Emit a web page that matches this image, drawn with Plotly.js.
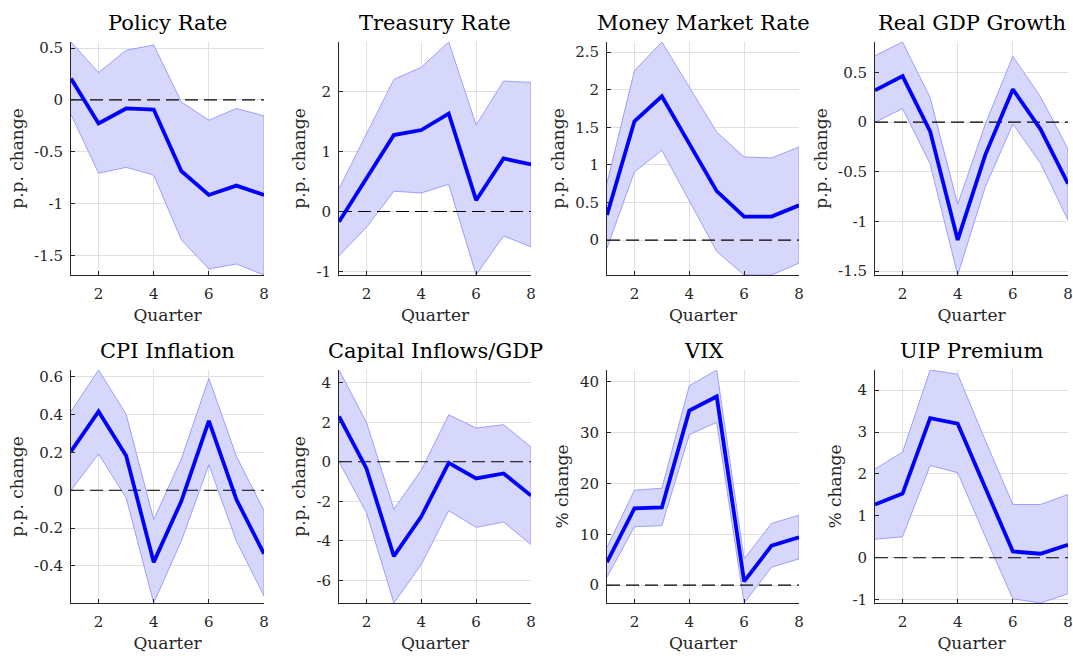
<!DOCTYPE html>
<html>
<head>
<meta charset="utf-8">
<script src="https://cdn.plot.ly/plotly-3.0.1.min.js"></script>
<style>
  html, body { margin: 0; padding: 0; background: #fff; }
  #chart { width: 1073px; height: 656px; }
</style>
</head>
<body>
<div id="chart"></div>
<script>
// Impulse responses over eight quarters: point estimate with confidence band
const quarters = [1, 2, 3, 4, 5, 6, 7, 8];
const quarterTicks = [2, 4, 6, 8];

const panelTitles = ["Policy Rate", "Treasury Rate", "Money Market Rate", "Real GDP Growth",
                     "CPI Inflation", "Capital Inflows/GDP", "VIX", "UIP Premium"];
const unitLabels = ["p.p. change", "p.p. change", "p.p. change", "p.p. change",
                    "p.p. change", "p.p. change", "% change", "% change"];

const policyMean  = [0.205, -0.228, -0.083, -0.093, -0.686, -0.917, -0.827, -0.917];
const policyUpper = [0.558, 0.263, 0.478, 0.529, -0.019, -0.196, -0.083, -0.154];
const policyLower = [-0.141, -0.708, -0.651, -0.724, -1.349, -1.631, -1.583, -1.689];

const treasuryMean  = [-0.171, 0.547, 1.276, 1.359, 1.635, 0.188, 0.884, 0.785];
const treasuryUpper = [0.381, 1.30, 2.204, 2.409, 2.829, 1.442, 2.177, 2.155];
const treasuryLower = [-0.740, -0.265, 0.337, 0.309, 0.453, -1.061, -0.409, -0.591];

const moneyMean  = [0.335, 1.581, 1.912, 1.282, 0.652, 0.313, 0.313, 0.463];
const moneyUpper = [0.76, 2.251, 2.634, 2.03, 1.436, 1.106, 1.093, 1.238];
const moneyLower = [-0.106, 0.907, 1.194, 0.53, -0.150, -0.463, -0.463, -0.304];

const gdpMean  = [0.32, 0.463, -0.093, -1.187, -0.33, 0.33, -0.07, -0.62];
const gdpUpper = [0.67, 0.807, 0.247, -0.827, -0.02, 0.663, 0.257, -0.27];
const gdpLower = [-0.003, 0.137, -0.42, -1.54, -0.653, -0.02, -0.413, -0.987];

const cpiMean  = [0.206, 0.417, 0.183, -0.38, -0.058, 0.367, -0.049, -0.336];
const cpiUpper = [0.417, 0.636, 0.402, -0.155, 0.165, 0.592, 0.179, -0.107];
const cpiLower = [0.0, 0.192, -0.04, -0.596, -0.269, 0.135, -0.269, -0.559];

const flowsMean  = [2.30, -0.336, -4.78, -2.77, -0.05, -0.84, -0.59, -1.71];
const flowsUpper = [4.65, 2.01, -2.40, -0.42, 2.38, 1.71, 1.88, 0.755];
const flowsLower = [0.0, -2.57, -7.15, -5.20, -2.48, -3.32, -3.05, -4.19];

const vixMean  = [4.5, 15.07, 15.26, 34.3, 37.1, 0.72, 7.76, 9.39];
const vixUpper = [7.44, 18.66, 19.05, 39.2, 42.3, 5.15, 12.13, 13.76];
const vixLower = [1.57, 11.48, 11.68, 29.6, 32.0, -3.52, 3.52, 5.15];

const uipMean  = [1.27, 1.53, 3.33, 3.20, 1.67, 0.15, 0.095, 0.31];
const uipUpper = [2.12, 2.52, 4.48, 4.38, 2.8, 1.27, 1.27, 1.51];
const uipLower = [0.44, 0.50, 2.20, 2.03, 0.5, -0.98, -1.08, -0.86];

const policyTicks   = [-1.5, -1, -0.5, 0, 0.5];
const treasuryTicks = [-1, 0, 1, 2];
const moneyTicks    = [0, 0.5, 1, 1.5, 2, 2.5];
const gdpTicks      = [-1.5, -1, -0.5, 0, 0.5];
const cpiTicks      = [-0.4, -0.2, 0, 0.2, 0.4, 0.6];
const flowsTicks    = [-6, -4, -2, 0, 2, 4];
const vixTicks      = [0, 10, 20, 30, 40];
const uipTicks      = [-1, 0, 1, 2, 3, 4];

const panels = [
  [policyMean, policyUpper, policyLower, policyTicks],
  [treasuryMean, treasuryUpper, treasuryLower, treasuryTicks],
  [moneyMean, moneyUpper, moneyLower, moneyTicks],
  [gdpMean, gdpUpper, gdpLower, gdpTicks],
  [cpiMean, cpiUpper, cpiLower, cpiTicks],
  [flowsMean, flowsUpper, flowsLower, flowsTicks],
  [vixMean, vixUpper, vixLower, vixTicks],
  [uipMean, uipUpper, uipLower, uipTicks]
];

// Page geometry (pixels) for the 2 x 4 grid of axes
const W = 1073, H = 656;
const colSpans = [[71, 264], [339, 531], [607, 799], [875, 1068]];
const rowSpans = [[42, 275], [370, 603]];
const titleCenters = [23, 351];

const FONT = "DejaVu Serif, Liberation Serif, serif";
const AXIS_COLOR = "#262626";
const GRID_COLOR = "#e0e0e0";
const BAND_FILL = "#d7d7fb";
const BAND_EDGE = "#8a8aff";
const LINE_BLUE = "#0000ff";

const traces = [];
const layout = {
  width: W, height: H,
  margin: { l: 0, r: 0, t: 0, b: 0 },
  paper_bgcolor: "#fff",
  plot_bgcolor: "#fff",
  showlegend: false,
  font: { family: FONT, color: AXIS_COLOR },
  annotations: []
};

panels.forEach(([mean, upper, lower, ticks], i) => {
  const n = i + 1;
  const xa = "x" + (n === 1 ? "" : n);
  const ya = "y" + (n === 1 ? "" : n);
  const row = Math.floor(i / 4), col = i % 4;
  const [x0, x1] = colSpans[col];
  const [top, bottom] = rowSpans[row];

  // confidence band as one closed polygon
  traces.push({
    x: quarters.concat(quarters.slice().reverse()),
    y: upper.concat(lower.slice().reverse()),
    xaxis: xa, yaxis: ya,
    type: "scatter", mode: "lines",
    fill: "toself", fillcolor: BAND_FILL,
    line: { color: BAND_EDGE, width: 0.8 },
    hoverinfo: "skip"
  });
  // zero reference line
  traces.push({
    x: [quarters[0], quarters[quarters.length - 1]],
    y: [0, 0],
    xaxis: xa, yaxis: ya,
    type: "scatter", mode: "lines",
    line: { color: "#000", width: 1.1, dash: "13px,6px" },
    hoverinfo: "skip"
  });
  // point estimate
  traces.push({
    x: quarters, y: mean,
    xaxis: xa, yaxis: ya,
    type: "scatter", mode: "lines",
    line: { color: LINE_BLUE, width: 3.8 }
  });

  const yMin = Math.min(...lower), yMax = Math.max(...upper);

  layout["xaxis" + (n === 1 ? "" : n)] = {
    domain: [x0 / W, x1 / W],
    anchor: ya,
    range: [quarters[0], quarters[quarters.length - 1]],
    tickvals: quarterTicks,
    ticktext: quarterTicks.map(String),
    ticks: "inside", ticklen: 4, tickwidth: 1, tickcolor: AXIS_COLOR,
    showline: true, linecolor: AXIS_COLOR, linewidth: 1, mirror: false,
    showgrid: true, gridcolor: GRID_COLOR, gridwidth: 1,
    zeroline: false,
    tickfont: { family: FONT, size: 15, color: AXIS_COLOR },
    ticklabelstandoff: 5,
    title: { text: "Quarter", font: { family: FONT, size: 17, color: AXIS_COLOR }, standoff: 7 },
    fixedrange: true
  };
  layout["yaxis" + (n === 1 ? "" : n)] = {
    domain: [1 - bottom / H, 1 - top / H],
    anchor: xa,
    range: [yMin, yMax],
    tickvals: ticks,
    ticktext: ticks.map(String),
    ticks: "inside", ticklen: 4, tickwidth: 1, tickcolor: AXIS_COLOR,
    showline: true, linecolor: AXIS_COLOR, linewidth: 1, mirror: false,
    showgrid: true, gridcolor: GRID_COLOR, gridwidth: 1,
    zeroline: false,
    tickfont: { family: FONT, size: 15, color: AXIS_COLOR },
    ticklabelstandoff: 4,
    title: { text: unitLabels[i], font: { family: FONT, size: 17, color: AXIS_COLOR }, standoff: 6 },
    fixedrange: true
  };

  layout.annotations.push({
    text: panelTitles[i],
    xref: "paper", yref: "paper",
    x: (x0 + x1) / 2 / W, y: 1 - titleCenters[row] / H,
    xanchor: "center", yanchor: "middle",
    showarrow: false,
    font: { family: FONT, size: 21, color: "#000" }
  });
});

Plotly.newPlot("chart", traces, layout, { displayModeBar: false, staticPlot: true });
</script>
</body>
</html>
